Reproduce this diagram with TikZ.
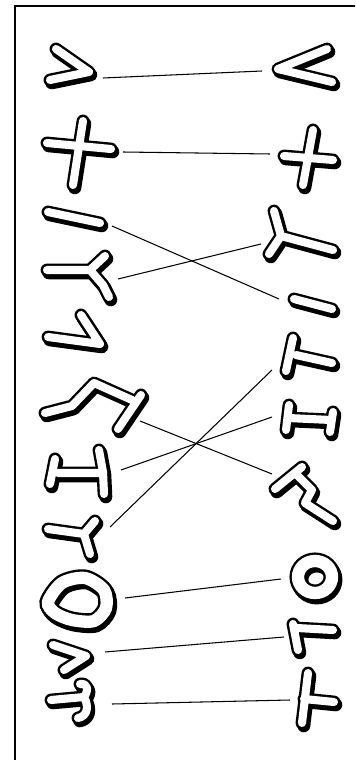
\documentclass[tikz,border=0pt]{standalone}
\usepackage{tikz}
\tikzset{
  runeshadow/.style={draw=black, line width=7.4pt, line cap=round, line join=round},
  rune/.style={draw=black, line width=1.35pt, double=white, double distance=4.6pt,
    line cap=round, line join=round},
  ringshadow/.style={draw=black, line width=9.8pt},
  ring/.style={draw=black, line width=1.35pt, double=white, double distance=7pt},
  link/.style={draw=black, line width=0.6pt},
  frame/.style={draw=black, line width=1.2pt}
}
% outlined glyph with a drop shadow
\newcommand{\rune}[1]{\draw[runeshadow, shift={(1.8,2.8)}] #1; \draw[rune] #1;}

\begin{document}
\begin{tikzpicture}[x=0.02cm, y=-0.02cm]
  \useasboundingbox (0,0) rectangle (355,760);
  \draw[frame] (15,760) -- (15,6) -- (355,6);

  % left column
  \rune{(56,49) -- (89,72) -- (50,80)}
  \rune{(83,121) -- (73,185) (47,143) -- (111,149)}
  \rune{(48,212) -- (100,223)}
  \rune{(47,270) -- (90,270) -- (105,256) (90,270) -- (103,285) -- (109,297)}
  \rune{(81,315) -- (100,344) -- (48,337)}
  \rune{(45,413) -- (72,406) -- (94,383) -- (132,400) (141,395) -- (118,429)}
  \rune{(58,473) -- (101,473) (99,450) -- (103,472) -- (104,494) (55,459) -- (50,484)}
  \rune{(48,529) -- (84,534) -- (95,521) (84,534) -- (90,554)}
  \draw[ringshadow, shift={(1.8,2.8)}] plot[smooth cycle] coordinates
    {(48,602) (62,583) (85,578) (104,590) (106,608) (94,621) (72,620) (55,613)};
  \draw[ring] plot[smooth cycle] coordinates
    {(48,602) (62,583) (85,578) (104,590) (106,608) (94,621) (72,620) (55,613)};
  \rune{(53,645) -- (86,656) -- (64,670)}
  \rune{(51,700) -- (84,697) .. controls (89,690) and (88,683) .. (80,684)
    (84,697) .. controls (89,706) and (88,716) .. (78,718)}

  % right column
  \rune{(327,49) -- (278,69) -- (332,82)}
  \rune{(313,130) -- (303,185) (284,156) -- (333,160)}
  \rune{(274,211) -- (281,236) -- (269,254) (281,236) -- (333,250)}
  \rune{(294,299) -- (332,309)}
  \rune{(293,338) -- (286,371) (296,355) -- (332,363)}
  \rune{(289,405) -- (286,430) (288,418) -- (331,420) (333,412) -- (330,432)}
  \rune{(275,489) -- (302,467) (296,474) -- (312,490) -- (305,503) -- (333,521)}
  \draw[ringshadow, shift={(1.8,2.8)}] (315,577) ellipse [x radius=17, y radius=16];
  \draw[ring] (315,577) ellipse [x radius=17, y radius=16];
  \rune{(297,628) -- (333,630) (293,624) -- (298,650)}
  \rune{(308,673) -- (302,723) (304,699) -- (334,702)}

  % link ends
  \coordinate (left1) at (103,78);   \coordinate (right1) at (262,71);
  \coordinate (left2) at (123,152);  \coordinate (right2) at (270,154);
  \coordinate (left3) at (112,226);  \coordinate (right3) at (261,244);
  \coordinate (left4) at (118,279);  \coordinate (right4) at (279,299);
  \coordinate (left6) at (140,421);  \coordinate (right5) at (272,370);
  \coordinate (left7) at (121,470);  \coordinate (right6) at (272,417);
  \coordinate (left8) at (110,527);  \coordinate (right7) at (272,474);
  \coordinate (left9) at (125,598);  \coordinate (right8) at (281,579);
  \coordinate (left10) at (105,652); \coordinate (right9) at (284,637);
  \coordinate (left11) at (112,704); \coordinate (right10) at (290,700);

  \draw[link] (left1) -- (right1);
  \draw[link] (left2) -- (right2);
  \draw[link] (left3) -- (right4);
  \draw[link] (left4) -- (right3);
  \draw[link] (left6) -- (right7);
  \draw[link] (left7) -- (right6);
  \draw[link] (left8) -- (right5);
  \draw[link] (left9) -- (right8);
  \draw[link] (left10) -- (right9);
  \draw[link] (left11) -- (right10);
\end{tikzpicture}
\end{document}
